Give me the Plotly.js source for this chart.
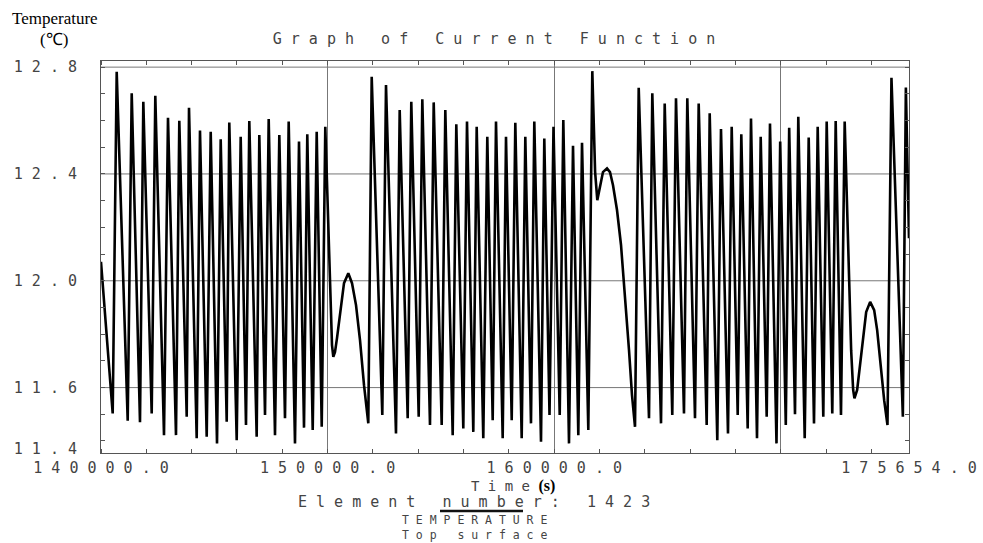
<!DOCTYPE html>
<html>
<head>
<meta charset="utf-8">
<script src="https://cdn.plot.ly/plotly-3.0.1.min.js"></script>
<style>html,body{margin:0;padding:0;background:#fff;}#chart{width:983px;height:543px;}</style>
</head>
<body>
<div id="chart"></div>
<script>
// Time (s)
const time = [
140000, 140516, 140693, 141178, 141355, 141721, 141867, 142237, 142396, 142780,
142956, 143309, 143455, 143782, 143883, 144223, 144368, 144664, 144841, 145119,
145282, 145547, 145661, 145988, 146164, 146398, 146544, 146870, 146985, 147237,
147400, 147678, 147868, 148119, 148282, 148560, 148737, 148958, 149103, 149342,
149518, 149739, 149897,
150061, 150149, 150193, 150251, 150326, 150414, 150547, 150723, 150913,
151076, 151253, 151429, 151606, 151795,
151945, 152413, 152576, 153017, 153180, 153533, 153692, 154019, 154178, 154517,
154681, 155034, 155193, 155519, 155678, 155987, 156150, 156428, 156578, 156869,
157046, 157284, 157430, 157725, 157871, 158123, 158282, 158564, 158723, 158974,
159120, 159416, 159561, 159791, 159967, 160241, 160400, 160651, 160828, 161062,
161225, 161503, 161679,
161803, 161900, 162018, 162150, 162328, 162460, 162593, 162769, 162946, 163122, 163299, 163431, 163564,
163727, 164181, 164327, 164711, 164874, 165209, 165372, 165725, 165871, 166211,
166374, 166727, 166859, 167195, 167358, 167667, 167830, 168095, 168254, 168536,
168682, 168947, 169110, 169375, 169520, 169807, 169970, 170217, 170367, 170623,
170769, 171052, 171228, 171462, 171625, 171872, 172022, 172269, 172419, 172653,
172816,
172969, 173101, 173190, 173247, 173366, 173499, 173631, 173764, 173940,
174117, 174249, 174381, 174558, 174704,
174880, 175383, 175516, 175654
];
// Temperature (°C), top surface, element 1423
const temperature = [
12.071, 11.503, 12.783, 11.476, 12.702, 11.470, 12.670, 11.503, 12.693, 11.422,
12.610, 11.422, 12.599, 11.491, 12.648, 11.410, 12.563, 11.416, 12.558, 11.391,
12.530, 11.472, 12.593, 11.403, 12.539, 11.460, 12.598, 11.416, 12.546, 11.497,
12.606, 11.422, 12.546, 11.485, 12.596, 11.391, 12.521, 11.450, 12.549, 11.441,
12.558, 11.453, 12.577,
12.115, 11.853, 11.759, 11.715, 11.733, 11.785, 11.883, 11.991, 12.028,
11.991, 11.909, 11.778, 11.609, 11.466,
12.764, 11.497, 12.733, 11.428, 12.639, 11.485, 12.670, 11.491, 12.680, 11.460,
12.668, 11.460, 12.639, 11.422, 12.586, 11.447, 12.596, 11.434, 12.577, 11.410,
12.539, 11.478, 12.596, 11.410, 12.539, 11.478, 12.592, 11.410, 12.539, 11.466,
12.596, 11.397, 12.533, 11.497, 12.577, 11.497, 12.602, 11.391, 12.506, 11.422,
12.517, 11.441, 12.785,
12.408, 12.302, 12.351, 12.407, 12.421, 12.407, 12.358, 12.265, 12.134, 11.946, 11.740, 11.572, 11.453,
12.723, 11.485, 12.702, 11.466, 12.664, 11.497, 12.683, 11.503, 12.683, 11.485,
12.664, 11.460, 12.627, 11.403, 12.568, 11.428, 12.577, 11.497, 12.549, 11.447,
12.608, 11.410, 12.539, 11.491, 12.589, 11.391, 12.521, 11.460, 12.573, 11.500,
12.614, 11.410, 12.536, 11.466, 12.577, 11.491, 12.596, 11.503, 12.598, 11.497,
12.596,
12.115, 11.740, 11.591, 11.560, 11.591, 11.684, 11.797, 11.883, 11.921,
11.890, 11.815, 11.703, 11.553, 11.460,
12.760, 11.491, 12.724, 12.159
];

const xTickVals = [140000, 150000, 160000, 170000, 175654];
const xTickText = ["1 4 0 0 0 0 . 0", "1 5 0 0 0 0 . 0", "1 6 0 0 0 0 . 0", "", "1 7 5 6 5 4 . 0"];
const yTickVals = [12.8, 12.4, 12.0, 11.6, 11.372];
const yTickText = ["1 2 . 8", "1 2 . 4", "1 2 . 0", "1 1 . 6", "1 1 . 4"];

const mono = "DejaVu Sans Mono, monospace";
const serif = "Liberation Serif, Times New Roman, serif";
const gray = "#444";

// pixel -> paper helpers (plot area 101..909 x 61..453)
const L = 101, R = 909, T = 61, B = 453;
const px = v => (v - L) / (R - L);
const py = v => (B - v) / (B - T);

const trace = {
  x: time, y: temperature, type: "scatter", mode: "lines",
  line: {color: "#000", width: 2.6}, hoverinfo: "x+y"
};

const layout = {
  width: 983, height: 543,
  margin: {l: L, r: 983 - R, t: T, b: 543 - B},
  paper_bgcolor: "#fff", plot_bgcolor: "#fff",
  showlegend: false,
  title: {
    text: "G r a p h   o f   C u r r e n t   F u n c t i o n",
    x: 494 / 983, xanchor: "center", xref: "container",
    y: 1 - 39 / 543, yanchor: "middle", yref: "container",
    font: {family: mono, size: 15, color: gray}
  },
  xaxis: {
    range: [140000, 175654], tickmode: "array", tickvals: xTickVals, ticktext: xTickText,
    showline: true, linecolor: "#555", linewidth: 1, mirror: "allticks",
    showgrid: true, gridcolor: "#777", gridwidth: 1, zeroline: false,
    ticks: "", ticklabelstandoff: 1,
    tickfont: {family: mono, size: 15, color: gray},
    minor: {dtick: 2000, tick0: 140000, ticks: "inside", ticklen: 4, tickcolor: "#555", showgrid: false}
  },
  yaxis: {
    range: [11.355, 12.823], tickmode: "array", tickvals: yTickVals, ticktext: yTickText,
    showline: true, linecolor: "#555", linewidth: 1, mirror: "allticks",
    showgrid: false, zeroline: false,
    ticks: "", ticklabelstandoff: 20,
    tickfont: {family: mono, size: 15, color: gray},
    minor: {dtick: 0.1, tick0: 11.4, ticks: "inside", ticklen: 4, tickcolor: "#555", showgrid: false}
  },
  annotations: [
    {text: "Temperature", x: px(55), y: py(19), xref: "paper", yref: "paper", showarrow: false,
     xanchor: "center", yanchor: "middle", font: {family: serif, size: 17, color: "#000"}},
    {text: "(℃)", x: px(54), y: py(40), xref: "paper", yref: "paper", showarrow: false,
     xanchor: "center", yanchor: "middle", font: {family: serif, size: 17, color: "#000"}},
    {text: "T i m e <span style=\"font-family:Liberation Serif;font-size:16px;font-weight:bold;fill:#000\">(s)</span>",
     x: px(513), y: py(485.5), xref: "paper", yref: "paper", showarrow: false,
     xanchor: "center", yanchor: "middle", font: {family: mono, size: 14, color: gray}},
    {text: "E l e m e n t   n u m b e r :   1 4 2 3", x: px(474), y: py(502), xref: "paper", yref: "paper",
     showarrow: false, xanchor: "center", yanchor: "middle", font: {family: mono, size: 15, color: gray}},
    {text: "T E M P E R A T U R E<br>T o p   s u r f a c e", x: px(474), y: py(527), xref: "paper", yref: "paper",
     showarrow: false, xanchor: "center", yanchor: "middle", align: "left",
     font: {family: mono, size: 11.5, color: gray}}
  ],
  shapes: [
    // horizontal gridlines at the labelled temperatures
    ...[12.8, 12.4, 12.0, 11.6].map(v => ({type: "line", xref: "paper", yref: "y", x0: 0, x1: 1, y0: v, y1: v,
      line: {color: "#777", width: 1}, layer: "below"})),
    {type: "line", xref: "paper", yref: "paper", x0: px(440), x1: px(523), y0: py(511), y1: py(511),
     line: {color: "#111", width: 2.5}}
  ]
};

Plotly.newPlot("chart", [trace], layout, {displayModeBar: false, staticPlot: true});
</script>
</body>
</html>
